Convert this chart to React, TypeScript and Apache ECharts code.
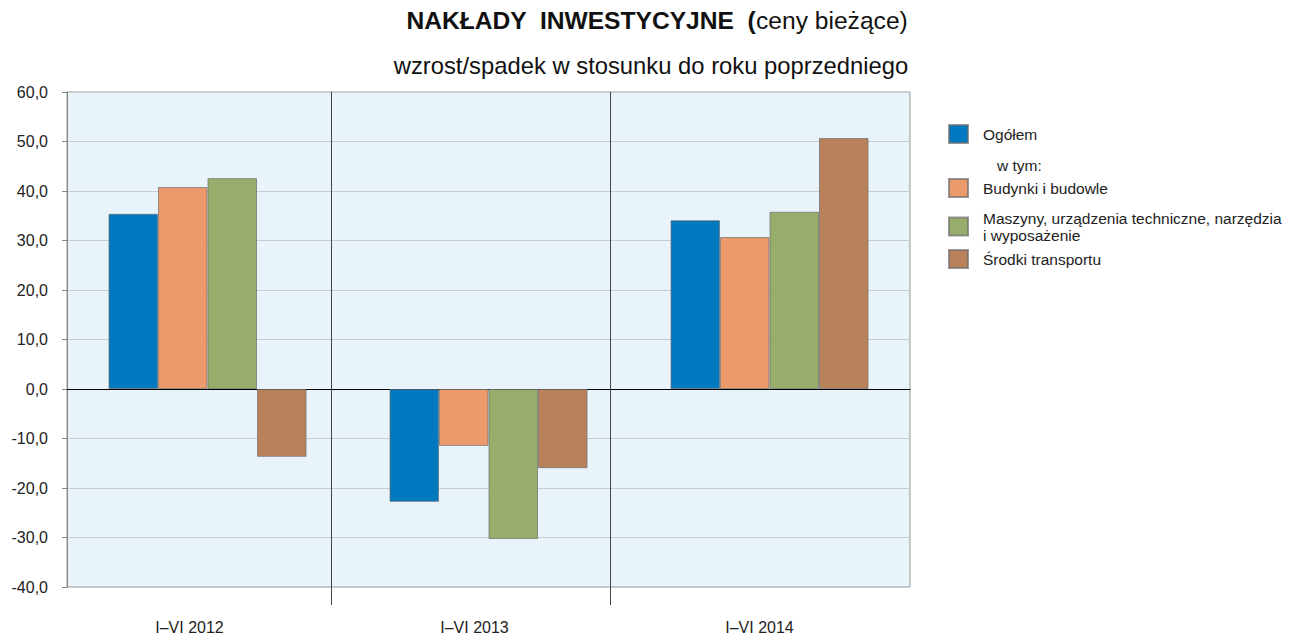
import React, { useEffect, useRef } from "react";
import * as echarts from "echarts";

const categories = ["I–VI 2012", "I–VI 2013", "I–VI 2014"];
const seriesNames = [
  "Ogółem",
  "Budynki i budowle",
  "Maszyny, urządzenia techniczne, narzędzia i wyposażenie",
  "Środki transportu",
];
const ogolem = [35.4, -22.8, 34.1];
const budynki = [40.8, -11.5, 30.7];
const maszyny = [42.6, -30.3, 35.8];
const srodki = [-13.7, -16.0, 50.7];
const colors = ["#0079c1", "#ec9a6b", "#98ad6b", "#b9815a"];
const yTicks = { min: -40, max: 60, interval: 10 };

const FONT = "'Liberation Sans', Arial, sans-serif";

export default function App() {
  const ref = useRef<HTMLDivElement>(null);
  useEffect(() => {
    if (!ref.current) return;
    const chart = echarts.init(ref.current, null, { renderer: "svg" });
    const values = [ogolem, budynki, maszyny, srodki];
    const legendTops = [119, 173, 205, 244];
    const option: any = {
      animation: false,
      textStyle: { fontFamily: FONT },
      title: [
        {
          left: 652,
          top: 3,
          textAlign: "center",
          text: "{b|NAKŁADY  INWESTYCYJNE  (}{r|ceny bieżące)}",
          textStyle: {
            rich: {
              b: { fontFamily: FONT, fontSize: 24.6, fontWeight: "bold", color: "#111" },
              r: { fontFamily: FONT, fontSize: 24.6, fontWeight: "normal", color: "#111" },
            },
          },
        },
        {
          left: 646,
          top: 48,
          textAlign: "center",
          text: "wzrost/spadek w stosunku do roku poprzedniego",
          textStyle: { fontFamily: FONT, fontSize: 23.8, fontWeight: "normal", color: "#111" },
        },
      ],
      legend: seriesNames.map((n, i) => ({
        data: [n],
        orient: "vertical",
        left: 943,
        top: legendTops[i],
        itemWidth: 19,
        itemHeight: 18,
        icon: "rect",
        selectedMode: false,
        formatter: (name: string) =>
          name.startsWith("Maszyny")
            ? "{t|Maszyny, urządzenia techniczne, narzędzia}\n{t|i wyposażenie}"
            : "{t|" + name + "}",
        textStyle: {
          fontFamily: FONT,
          fontSize: 15.5,
          color: "#222",
          rich: {
            t: {
              fontFamily: FONT,
              fontSize: 15.5,
              color: "#222",
              lineHeight: 17,
              padding: [0, 0, 0, 10],
            },
          },
        },
      })),
      graphic: [
        {
          type: "text",
          left: 997,
          top: 157,
          style: { text: "w tym:", fontFamily: FONT, fontSize: 15.5, fill: "#222" },
        },
      ],
      grid: [
        {
          left: 67,
          right: 385,
          top: 92,
          bottom: 48,
          show: true,
          backgroundColor: "#e8f3fa",
          borderColor: "#999",
          borderWidth: 1,
        },
        { left: 52, width: 837, top: 92, bottom: 30 },
        { left: 47, width: 855, top: 92, bottom: 30 },
      ],
      xAxis: [
        {
          type: "category",
          gridIndex: 0,
          data: categories,
          axisLine: { onZero: true, lineStyle: { color: "#000", width: 1.2 } },
          axisTick: { show: false },
          axisLabel: { show: false },
          splitLine: { show: false },
        },
        {
          type: "category",
          gridIndex: 1,
          data: categories,
          z: 3,
          axisLine: { show: false },
          axisTick: { show: false },
          axisLabel: { show: false },
          splitLine: {
            show: true,
            showMinLine: false,
            showMaxLine: false,
            lineStyle: { color: "#444", width: 1 },
          },
        },
        {
          type: "category",
          gridIndex: 2,
          data: categories,
          axisLine: { show: false },
          axisTick: { show: false },
          axisLabel: { show: true, margin: 15, fontFamily: FONT, fontSize: 16, color: "#222" },
          splitLine: { show: false },
        },
      ],
      yAxis: [
        {
          type: "value",
          gridIndex: 0,
          min: yTicks.min,
          max: yTicks.max,
          interval: yTicks.interval,
          axisLine: { show: true, lineStyle: { color: "#888" } },
          axisTick: { show: true, length: 5, lineStyle: { color: "#888" } },
          axisLabel: {
            fontFamily: FONT,
            fontSize: 16,
            color: "#222",
            margin: 19,
            formatter: (v: number) => v.toFixed(1).replace(".", ","),
          },
          splitLine: { show: true, lineStyle: { color: "#c9cdd2" } },
        },
        { type: "value", gridIndex: 1, show: false, min: 0, max: 1 },
        { type: "value", gridIndex: 2, show: false, min: 0, max: 1 },
      ],
      series: seriesNames.map((n, i) => ({
        name: n,
        type: "bar",
        xAxisIndex: 0,
        yAxisIndex: 0,
        data: values[i],
        barWidth: 49.5,
        barGap: "0%",
        itemStyle: {
          color: colors[i],
          borderColor: "rgba(110,110,110,0.7)",
          borderWidth: 1,
        },
      })),
    };
    chart.setOption(option);
    return () => chart.dispose();
  }, []);
  return <div ref={ref} style={{ width: 1295, height: 635, position: "absolute", left: 0, top: 0 }} />;
}
